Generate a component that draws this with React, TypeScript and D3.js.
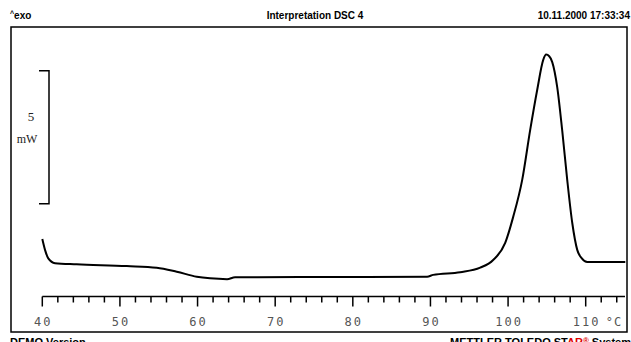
import { useEffect, useRef } from 'react';
import * as d3 from 'd3';

// DSC curve: temperature (°C) and heat flow (mW, arbitrary zero)
const temperatures = [40.0, 40.35, 40.77, 41.64, 44.43, 50.88, 54.74, 57.32, 59.9, 61.61, 63.8, 64.83, 73.2, 89.57, 90.35, 93.83, 96.41, 98.08, 99.63, 100.66, 101.82, 102.85, 103.75, 104.53, 104.9, 105.3, 105.69, 106.33, 106.98, 107.62, 108.27, 108.91, 109.5, 110.2, 110.98, 115.1];
const heatFlow = [1.43, 1.02, 0.7, 0.52, 0.48, 0.41, 0.35, 0.2, 0.01, -0.05, -0.08, -0.01, 0.0, 0.01, 0.08, 0.18, 0.35, 0.64, 1.28, 2.26, 3.65, 5.53, 7.03, 8.16, 8.36, 8.3, 8.08, 7.14, 5.49, 3.65, 2.03, 1.02, 0.7, 0.56, 0.56, 0.56];

const xTicks = d3.range(40, 115, 2);
const xLabels = [40, 50, 60, 70, 80, 90, 100, 110];
const scaleBar = [2.75, 7.75];

export default function App() {
    const svgRef = useRef<SVGSVGElement>(null);
    const width = 631;
    const height = 342;

    useEffect(() => {
        const svg = d3.select(svgRef.current);
        svg.selectAll("*").remove();

        const xScale = d3.scaleLinear().domain([40, 110]).range([42.3, 585.7]);
        const yScale = d3.scaleLinear().domain([0, 5]).range([277, 144]);

        // Header
        const header = svg.append("g")
            .style("font-family", "'Liberation Sans Narrow', 'Liberation Sans', Arial, sans-serif")
            .style("font-size", "10px")
            .style("font-weight", "bold")
            .style("fill", "#000");
        const exo = header.append("text").attr("x", 10).attr("y", 19);
        exo.append("tspan").attr("dy", -3).style("font-size", "7px").text("^");
        exo.append("tspan").attr("dy", 3).text("exo");
        header.append("text").attr("x", 315).attr("y", 19).attr("text-anchor", "middle").text("Interpretation DSC 4");
        header.append("text").attr("x", 630).attr("y", 19).attr("text-anchor", "end").text("10.11.2000 17:33:34");

        // Frame
        svg.append("rect")
            .attr("x", 11).attr("y", 27)
            .attr("width", 616).attr("height", 305)
            .attr("fill", "none")
            .attr("stroke", "#000")
            .attr("stroke-width", 1.5);

        // Scale bar 5 mW
        const barX = 49;
        svg.append("path")
            .attr("d", `M39,${yScale(scaleBar[1])}H${barX}V${yScale(scaleBar[0])}H39`)
            .attr("fill", "none")
            .attr("stroke", "#000")
            .attr("stroke-width", 1.5);
        const barMid = (yScale(scaleBar[0]) + yScale(scaleBar[1])) / 2;
        svg.append("text").attr("x", 31).attr("y", barMid - 16)
            .attr("text-anchor", "middle")
            .style("font-family", "'Liberation Serif', 'DejaVu Serif', serif")
            .style("font-size", "13px").style("fill", "#222")
            .text("5");
        svg.append("text").attr("x", 27).attr("y", barMid + 6)
            .attr("text-anchor", "middle")
            .style("font-family", "'Liberation Serif', 'DejaVu Serif', serif")
            .style("font-size", "12px").style("fill", "#222")
            .text("mW");

        // X axis
        const axisY = 296.5;
        const axis = svg.append("g");
        axis.append("line")
            .attr("x1", xScale(40)).attr("x2", 625)
            .attr("y1", axisY).attr("y2", axisY)
            .attr("stroke", "#000").attr("stroke-width", 1.5);
        axis.selectAll(".tick")
            .data(xTicks)
            .enter().append("line")
            .attr("class", "tick")
            .attr("x1", d => xScale(d)).attr("x2", d => xScale(d))
            .attr("y1", axisY).attr("y2", d => axisY + (d % 10 === 0 ? 10 : 6))
            .attr("stroke", "#000").attr("stroke-width", 1.5);
        axis.selectAll(".label")
            .data(xLabels)
            .enter().append("text")
            .attr("class", "label")
            .attr("x", d => xScale(d) + 1)
            .attr("y", 326)
            .attr("text-anchor", "middle")
            .style("font-family", "'DejaVu Sans Mono', monospace")
            .style("font-size", "12px")
            .style("letter-spacing", "2px")
            .style("fill", "#555")
            .text(d => String(d));
        axis.append("text")
            .attr("x", xScale(110) + 20)
            .attr("y", 326)
            .style("font-family", "'DejaVu Sans Mono', monospace")
            .style("font-size", "12px")
            .style("letter-spacing", "1px")
            .style("fill", "#555")
            .text("°C");

        // Curve
        const points = temperatures.map((t, i) => [t, heatFlow[i]] as [number, number]);
        const line = d3.line<[number, number]>()
            .x(d => xScale(d[0]))
            .y(d => yScale(d[1]))
            .curve(d3.curveMonotoneX);
        svg.append("path")
            .datum(points)
            .attr("fill", "none")
            .attr("stroke", "#000")
            .attr("stroke-width", 2)
            .attr("d", line);

        // Footer (cut off by the bottom edge, as in the original printout)
        const footer = svg.append("g")
            .style("font-family", "'Liberation Sans', Arial, sans-serif")
            .style("font-size", "11px")
            .style("font-weight", "bold")
            .style("fill", "#000");
        footer.append("text").attr("x", 10).attr("y", 346).text("DEMO Version");
        const brand = footer.append("text").attr("x", 631).attr("y", 346).attr("text-anchor", "end");
        brand.append("tspan").text("METTLER TOLEDO ST");
        brand.append("tspan").style("fill", "#e00000").text("AR");
        brand.append("tspan").style("fill", "#e00000").attr("dy", -3).style("font-size", "8px").text("®");
        brand.append("tspan").attr("dy", 3).text(" System");
    }, []);

    return (
        <svg ref={svgRef} width={width} height={height}
            style={{ position: 'absolute', left: 0, top: 0, background: '#fff' }} />
    );
}
